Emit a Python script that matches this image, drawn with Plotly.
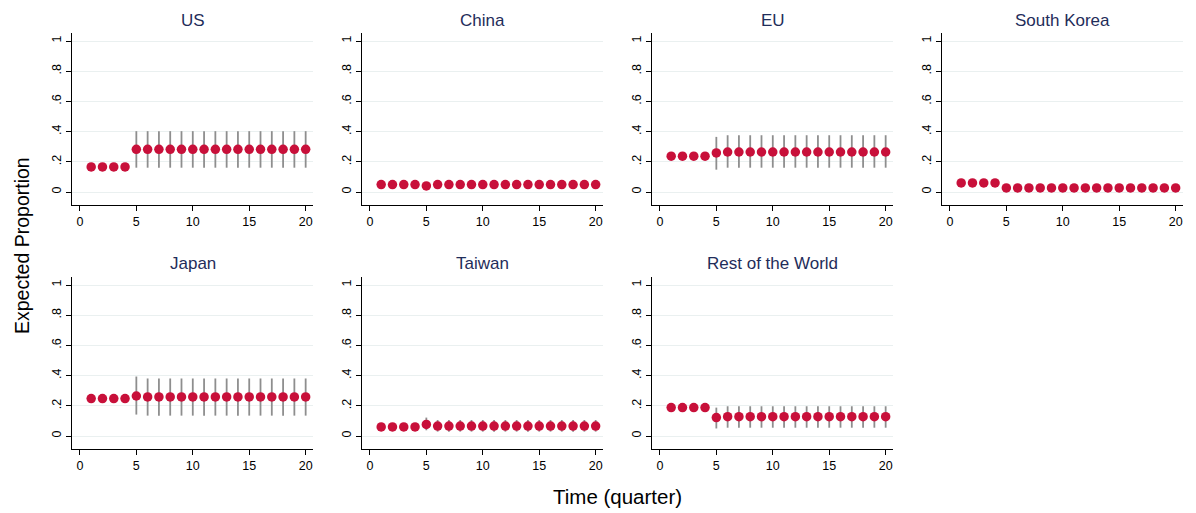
import plotly.graph_objects as go

# page body has an 8px margin, so the figure starts at (8, 8)
OFF = 8
W, H = 1196 - OFF, 513 - OFF

regions = ["US", "China", "EU", "South Korea", "Japan", "Taiwan", "Rest of the World"]
quarters = list(range(1, 21))

# Expected proportions (point estimates) and confidence bounds by quarter
us_est    = [0.166]*4 + [0.283]*16
us_lo     = [0.160]*4 + [0.161]*16
us_hi     = [0.172]*4 + [0.403]*16

china_est = [0.049]*4 + [0.040] + [0.049]*15
china_lo  = [0.043]*4 + [0.022] + [0.028]*15
china_hi  = [0.055]*4 + [0.058] + [0.070]*15

eu_est    = [0.237]*4 + [0.259] + [0.265]*15
eu_lo     = [0.230]*4 + [0.148] + [0.161]*15
eu_hi     = [0.244]*4 + [0.365] + [0.376]*15

sk_est    = [0.060]*4 + [0.027]*16
sk_lo     = [0.055]*4 + [0.022]*16
sk_hi     = [0.065]*4 + [0.032]*16

jp_est    = [0.248]*4 + [0.265] + [0.259]*15
jp_lo     = [0.228]*4 + [0.142] + [0.135]*15
jp_hi     = [0.268]*4 + [0.394] + [0.381]*15

tw_est    = [0.060]*4 + [0.077] + [0.066]*15
tw_lo     = [0.052]*4 + [0.038] + [0.029]*15
tw_hi     = [0.068]*4 + [0.122] + [0.106]*15

row_est   = [0.188]*4 + [0.122] + [0.128]*15
row_lo    = [0.183]*4 + [0.050] + [0.055]*15
row_hi    = [0.193]*4 + [0.188] + [0.197]*15

series = [
    (us_est, us_lo, us_hi),
    (china_est, china_lo, china_hi),
    (eu_est, eu_lo, eu_hi),
    (sk_est, sk_lo, sk_hi),
    (jp_est, jp_lo, jp_hi),
    (tw_est, tw_lo, tw_hi),
    (row_est, row_lo, row_hi),
]

yticks = [0, 0.2, 0.4, 0.6, 0.8, 1]
yticklabels = ["0", ".2", ".4", ".6", ".8", "1"]
xticks = [0, 5, 10, 15, 20]

col_px = [(72, 313), (362, 603), (652, 893), (942, 1183)]
row_px = [(33, 205), (277, 449)]
title_y_px = [20, 263]

marker_color = "#C8103A"
err_color = "#8E8E8E"
title_color = "#1F2D5A"
font_family = "Liberation Sans, Arial, sans-serif"


def px_x(p):
    return (p - OFF) / W


def px_y(p):
    return 1 - (p - OFF) / H


fig = go.Figure()
layout = {}
annotations = []

for i, name in enumerate(regions):
    r, c = divmod(i, 4)
    x0, x1 = col_px[c]
    yt, yb = row_px[r]
    idx = "" if i == 0 else str(i + 1)
    est, lo, hi = series[i]

    ex, ey = [], []
    for q, l, h in zip(quarters, lo, hi):
        ex += [q, q, None]
        ey += [l, h, None]
    fig.add_trace(go.Scatter(x=ex, y=ey, mode="lines",
                             line=dict(color=err_color, width=1.8),
                             xaxis="x" + idx, yaxis="y" + idx,
                             showlegend=False, hoverinfo="skip"))
    fig.add_trace(go.Scatter(x=quarters, y=est, mode="markers",
                             marker=dict(color=marker_color, size=9.5,
                                         line=dict(width=0)),
                             xaxis="x" + idx, yaxis="y" + idx,
                             showlegend=False, name=name))

    layout["xaxis" + idx] = dict(
        domain=[px_x(x0), px_x(x1)], anchor="y" + idx,
        range=[-0.7, 20.65], tickvals=xticks,
        showline=True, linecolor="black", linewidth=1.2,
        ticks="outside", ticklen=5, tickcolor="black",
        showgrid=False, zeroline=False,
        tickfont=dict(size=12.5, color="black", family=font_family),
    )
    layout["yaxis" + idx] = dict(
        domain=[px_y(yb), px_y(yt)], anchor="x" + idx,
        range=[-0.086, 1.053], tickvals=yticks, ticktext=yticklabels,
        showline=True, linecolor="black", linewidth=1.2,
        ticks="outside", ticklen=5, tickcolor="black",
        showgrid=True, gridcolor="#EAF0F0", gridwidth=1,
        zeroline=False, tickangle=-90,
        tickfont=dict(size=12.5, color="black", family=font_family),
    )
    annotations.append(dict(
        x=px_x((x0 + x1) / 2), y=px_y(title_y_px[r]),
        xref="paper", yref="paper", text=name, showarrow=False,
        xanchor="center", yanchor="middle",
        font=dict(size=17, color=title_color, family=font_family),
    ))

annotations.append(dict(
    x=px_x(22), y=px_y(246), xref="paper", yref="paper",
    text="Expected Proportion", showarrow=False, textangle=-90,
    xanchor="center", yanchor="middle",
    font=dict(size=19.5, color="black", family=font_family),
))
annotations.append(dict(
    x=px_x(617), y=px_y(496), xref="paper", yref="paper",
    text="Time (quarter)", showarrow=False,
    xanchor="center", yanchor="middle",
    font=dict(size=20.5, color="black", family=font_family),
))

fig.update_layout(
    width=W, height=H,
    margin=dict(l=0, r=0, t=0, b=0),
    paper_bgcolor="white", plot_bgcolor="white",
    annotations=annotations,
    **layout,
)

fig.write_html("out.html")
